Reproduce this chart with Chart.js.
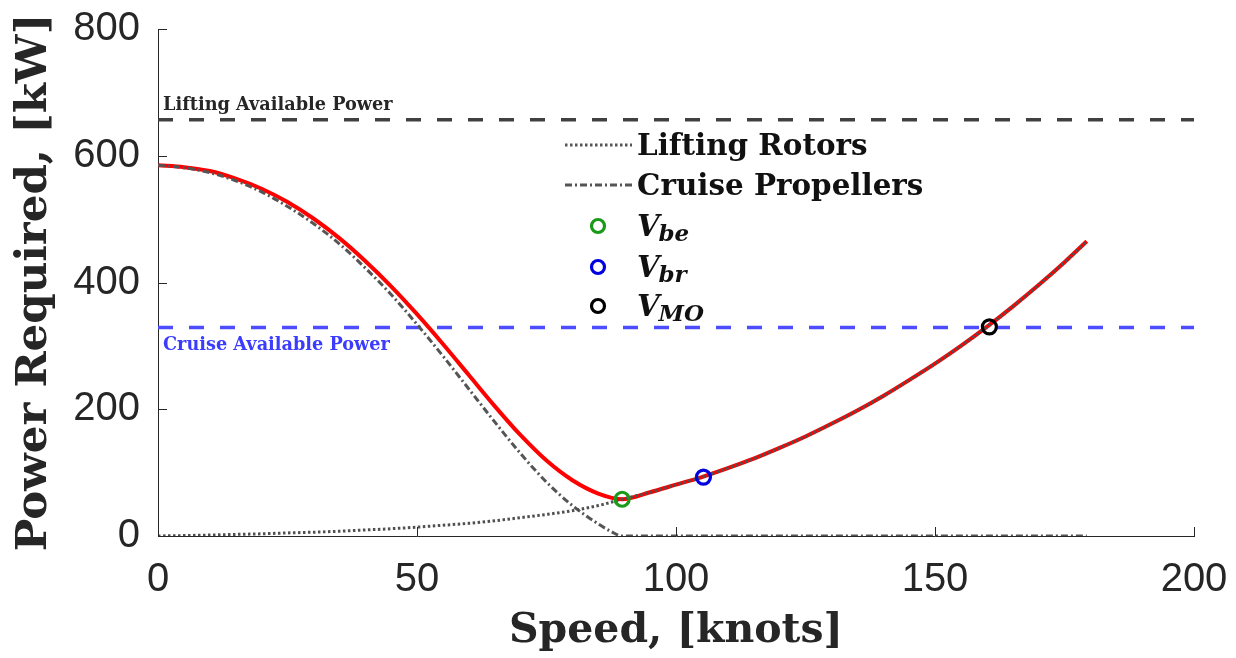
<!DOCTYPE html>
<html>
<head>
<meta charset="utf-8">
<script src="https://cdn.jsdelivr.net/npm/chart.js@4/dist/chart.umd.min.js"></script>
<style>
html,body{margin:0;padding:0;background:#fff;}
canvas{display:block;}
</style>
</head>
<body>
<canvas id="c" width="1236" height="658" style="width:1236px;height:658px"></canvas>
<script>
// ---- data ----
const totalSpeed = [0,5,10,15,20,25,30,35,40,45,50,55,60,65,70,75,80,85,89.6,95,100,105,110,115,120,125,130,135,140,145,150,155,160,165,170,175,179.3];
const totalPower = [585,582,576,564,548,527,501,470,434,394,350,303,254,205,159,119,88,67,58,69,81,93,107,122,139,157,177,198,221,246,272,300,330,362,396,432,465];

const liftSpeed = [0,5,10,15,20,25,30,35,40,45,50,55,60,65,70,75,80,85,89.6,95,100,105,110,115,120,125,130,135,140,145,150,155,160,165,170,175,179.3];
const liftPower = [0,0.7,1.5,2.5,3.5,4.8,6,7.5,9.5,11.5,14,17,20,24,29,34,40,48,58,69,81,93,107,122,139,157,177,198,221,246,272,300,330,362,396,432,465];

const cruiseSpeed = [0,5,10,15,20,25,30,35,40,45,50,55,60,65,70,75,80,85,87.5,89.6,120,150,179.3];
const cruisePower = [585,581,573.5,560.5,543,520,493,461,423,381,334,284,232,180,130,85,48,19,7,0,0,0,0];

const liftAvail = 657;
const cruiseAvail = 329;
const availSpan = [0,200];

const markerNames = ['be','br','MO'];
const markerSpeed = [89.6,105.3,160.5];
const markerPower = [58,93,330];
const markerColors = ['#1a9a1a','#0000e0','#000000'];

const xTicks = [0,50,100,150,200];
const yTicks = [0,200,400,600,800];

const legendLines = ['Lifting Rotors','Cruise Propellers'];

const toXY = (xs, ys) => xs.map((x,i)=>({x, y: ys[i]}));

const GREY = '#555555';
const SERIF = '"DejaVu Serif", "Liberation Serif", serif';

const datasets = [];
markerSpeed.forEach((s,i)=>{
  datasets.push({data:[{x:s,y:markerPower[i]}], showLine:false, pointStyle:'circle', pointRadius:7,
    pointBorderWidth:3.2, pointBorderColor:markerColors[i], pointBackgroundColor:'rgba(0,0,0,0)', order:0});
});
datasets.push({data:toXY(liftSpeed,liftPower), borderColor:'#505050', borderWidth:3, borderDash:[2.5,2.5],
  pointRadius:0, cubicInterpolationMode:'monotone', fill:false, order:1});
datasets.push({data:toXY(cruiseSpeed,cruisePower), borderColor:GREY, borderWidth:3, borderDash:[7,3,2,3],
  pointRadius:0, cubicInterpolationMode:'monotone', fill:false, order:2});
datasets.push({data:toXY(totalSpeed,totalPower), borderColor:'#ff0000', borderWidth:4,
  pointRadius:0, cubicInterpolationMode:'monotone', fill:false, order:3});
datasets.push({data:availSpan.map(x=>({x,y:liftAvail})), borderColor:'#404040', borderWidth:3.5, borderDash:[15,16],
  pointRadius:0, fill:false, order:4});
datasets.push({data:availSpan.map(x=>({x,y:cruiseAvail})), borderColor:'#4d4dff', borderWidth:3.5, borderDash:[15,16],
  pointRadius:0, fill:false, order:4});

const decor = {
  id:'decor',
  afterDraw(chart){
    const ctx = chart.ctx;
    const xs = chart.scales.x, ys = chart.scales.y;
    const ca = chart.chartArea;
    ctx.save();
    // inward ticks
    ctx.strokeStyle = '#262626'; ctx.lineWidth = 1; ctx.setLineDash([]);
    xTicks.forEach(v=>{ const px = Math.round(xs.getPixelForValue(v))+0.5;
      ctx.beginPath(); ctx.moveTo(px, ca.bottom); ctx.lineTo(px, ca.bottom-9); ctx.stroke(); });
    yTicks.forEach(v=>{ const py = Math.round(ys.getPixelForValue(v))+0.5;
      ctx.beginPath(); ctx.moveTo(ca.left, py); ctx.lineTo(ca.left+9, py); ctx.stroke(); });

    // annotations
    ctx.textAlign = 'left'; ctx.textBaseline = 'alphabetic';
    ctx.font = 'bold 17.7px ' + SERIF;
    ctx.fillStyle = '#262626';
    ctx.fillText('Lifting Available Power', ca.left+5, ys.getPixelForValue(liftAvail)-10);
    ctx.fillStyle = '#3c3cff';
    ctx.fillText('Cruise Available Power', ca.left+5, ys.getPixelForValue(cruiseAvail)+23);

    // legend
    const lx0 = 565, lx1 = 632, tx = 637;
    const rowY = [145, 185];
    const dashes = [[2.5,2.5],[7,3,2,3]];
    legendLines.forEach((t,i)=>{
      ctx.strokeStyle = GREY; ctx.lineWidth = 2.8; ctx.setLineDash(dashes[i]);
      ctx.beginPath(); ctx.moveTo(lx0,rowY[i]); ctx.lineTo(lx1,rowY[i]); ctx.stroke();
      ctx.setLineDash([]);
      ctx.fillStyle = '#111'; ctx.font = 'bold 29.4px ' + SERIF;
      ctx.fillText(t, tx, rowY[i]+10);
    });
    const mY = [226, 267, 306];
    markerNames.forEach((n,i)=>{
      ctx.strokeStyle = markerColors[i]; ctx.lineWidth = 3.2;
      ctx.beginPath(); ctx.arc(598, mY[i], 6.5, 0, Math.PI*2); ctx.stroke();
      ctx.fillStyle = '#111';
      ctx.font = 'italic bold 29px ' + SERIF;
      ctx.fillText('V', tx, mY[i]+10);
      const w = ctx.measureText('V').width;
      ctx.font = 'italic bold 23px ' + SERIF;
      ctx.fillText(n, tx + w - 1, mY[i]+15);
    });
    ctx.restore();
  }
};

const zeroPad = s => { s.paddingTop = 0; s.paddingBottom = 0; s.paddingLeft = 0; s.paddingRight = 0; };

new Chart(document.getElementById('c'), {
  type:'line',
  data:{datasets},
  options:{
    responsive:false, animation:false, devicePixelRatio:1,
    layout:{padding:{top:29,right:42,left:0,bottom:0}},
    plugins:{legend:{display:false}, tooltip:{enabled:false}},
    scales:{
      x:{type:'linear', min:0, max:200,
        afterBuildTicks:s=>{ s.ticks = xTicks.map(v=>({value:v})); },
        ticks:{font:{family:'"Liberation Sans", Arial, sans-serif', size:40}, color:'#262626', padding:20, maxRotation:0, autoSkip:false},
        grid:{display:false, drawTicks:false},
        border:{display:true, color:'#262626', width:1},
        title:{display:true, text:'Speed, [knots]', color:'#262626',
          font:{family:SERIF, weight:'bold', size:41, lineHeight:1}, padding:{top:0,bottom:6}},
        afterFit:s=>{ s.height = 122; zeroPad(s); }
      },
      y:{type:'linear', min:0, max:800,
        afterBuildTicks:s=>{ s.ticks = yTicks.map(v=>({value:v})); },
        ticks:{font:{family:'"Liberation Sans", Arial, sans-serif', size:40}, color:'#262626', padding:18, autoSkip:false},
        grid:{display:false, drawTicks:false},
        border:{display:true, color:'#262626', width:1},
        title:{display:true, text:'Power Required, [kW]', color:'#262626',
          font:{family:SERIF, weight:'bold', size:43.5, lineHeight:1}, padding:{top:13,bottom:0}},
        afterFit:s=>{ s.width = 158; zeroPad(s); }
      }
    }
  },
  plugins:[decor]
});
</script>
</body>
</html>
